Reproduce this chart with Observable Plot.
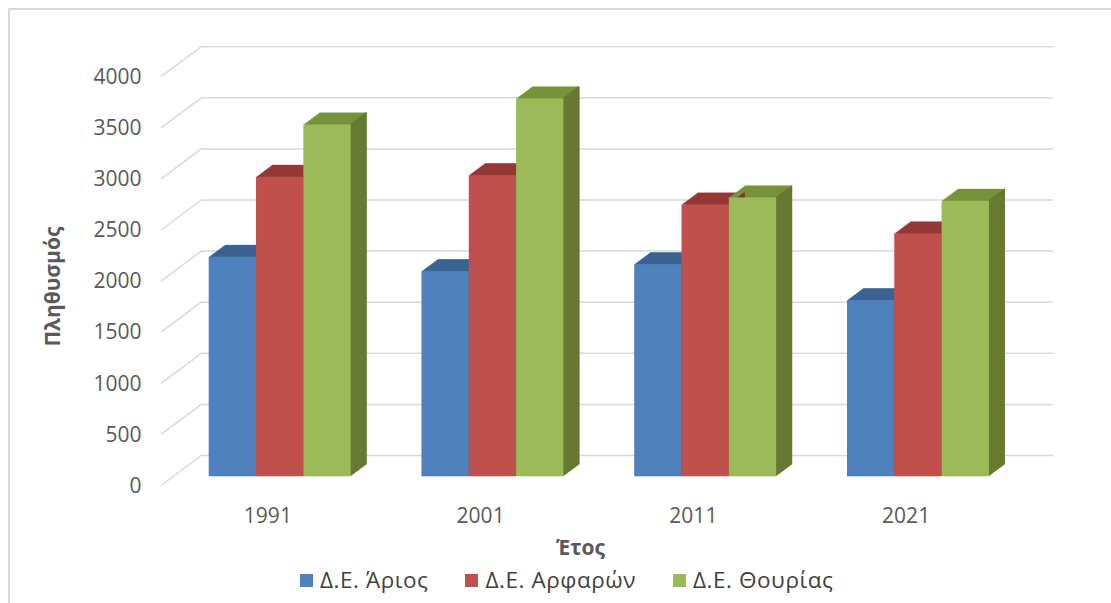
<!DOCTYPE html>
<html><head><meta charset="utf-8">
<script src="https://cdn.jsdelivr.net/npm/d3@7"></script>
<script src="https://cdn.jsdelivr.net/npm/@observablehq/plot@0.6"></script>
<style>
body{margin:0;background:#fff;font-family:"Open Sans",sans-serif;}
#wrap{position:relative;width:1111px;height:603px;overflow:hidden;}
#chart{position:absolute;left:0;top:0;}
#border{position:absolute;left:8px;top:8px;width:1200px;height:700px;border:2px solid #D9D9D9;box-sizing:border-box;pointer-events:none}
#legend{position:absolute;top:566px;left:300px;display:flex;align-items:center;font-size:22.5px;letter-spacing:0.55px;color:#404040;white-space:nowrap;line-height:28px}
.item{display:flex;align-items:center;margin-right:37px}
.sw{width:13px;height:13px;margin-right:7px}
</style></head><body>
<div id="wrap"><div id="chart"></div><div id="legend"></div><div id="border"></div></div>
<script>
// ---- data ----
const years = ["1991", "2001", "2011", "2021"];
const seriesNames = ["Δ.Ε. Άριος", "Δ.Ε. Αρφαρών", "Δ.Ε. Θουρίας"];
const arios = [2148, 2008, 2076, 1724];
const arfaron = [2931, 2947, 2660, 2377];
const thourias = [3443, 3698, 2729, 2696];
const yTicks = [0, 500, 1000, 1500, 2000, 2500, 3000, 3500, 4000];
const yTitle = "Πληθυσμός";
const xTitle = "Έτος";

// ---- styles ----
const frontColors = ["#4F81BD", "#C0504D", "#9BBB59"];
const topColors = ["#3C6391", "#943937", "#77933C"];
const sideColors = ["#355A85", "#7F302E", "#687834"];

const W = 1111, H = 560, mL = 161, mR = 99, mT = 76.7, mB = 74.5;
const WALL_DX = 41, WALL_DY = -30.5;
const FX = 12.3, FY = -9.2, DX = 16, DY = -11.9, N = 16;
const bw = (W - mL - mR) / years.length;
const outerPad = 35.4;
const barW = (bw - 2 * outerPad) / seriesNames.length;

const seriesValues = [arios, arfaron, thourias];
const tables = seriesValues.map(vals => years.map((year, j) => ({year, value: vals[j]})));

const marks = [];
// back wall gridlines
marks.push(Plot.ruleY(yTicks, {stroke: "#D9D9D9", strokeWidth: 1.5, dx: WALL_DX, dy: WALL_DY}));
// side wall diagonals
marks.push((index, scales, values, dims) => {
  const g = d3.create("svg:g");
  for (const t of yTicks) {
    const y0 = scales.y(t);
    g.append("line")
      .attr("x1", dims.marginLeft).attr("y1", y0)
      .attr("x2", dims.marginLeft + WALL_DX).attr("y2", y0 + WALL_DY)
      .attr("stroke", "#D9D9D9").attr("stroke-width", 1.5);
  }
  return g.node();
});
// extrusion (top colour)
tables.forEach((tab, i) => {
  const L = outerPad + barW * i, R = bw - L - barW;
  for (let k = N; k >= 1; k--) {
    marks.push(Plot.barY(tab, {x: "year", y: "value", fill: topColors[i], insetLeft: L, insetRight: R,
      dx: FX + DX * k / N, dy: FY + DY * k / N}));
  }
});
// side faces
tables.forEach((tab, i) => {
  const L = outerPad + barW * i, R = bw - L - barW;
  for (let k = N; k >= 1; k--) {
    marks.push(Plot.barY(tab, {x: "year", y: "value", fill: sideColors[i], insetLeft: L + barW - 1.5, insetRight: R,
      dx: FX + DX * k / N, dy: FY + DY * k / N}));
  }
});
// front faces
tables.forEach((tab, i) => {
  const L = outerPad + barW * i, R = bw - L - barW;
  marks.push(Plot.barY(tab, {x: "year", y: "value", fill: frontColors[i], insetLeft: L, insetRight: R, dx: FX, dy: FY}));
});
// axis titles
marks.push(Plot.text([yTitle], {text: d => d, frameAnchor: "left", textAnchor: "middle", lineAnchor: "middle",
  rotate: -90, dx: -108, dy: 5, fontWeight: "bold", fontSize: 21, fill: "#595959"}));
marks.push(Plot.text([xTitle], {text: d => d, frameAnchor: "bottom", textAnchor: "middle", lineAnchor: "middle",
  dx: -6.5, dy: 62.5, fontWeight: "bold", fontSize: 21, fill: "#595959"}));

const chart = Plot.plot({
  width: W, height: H,
  marginLeft: mL, marginRight: mR, marginTop: mT, marginBottom: mB,
  style: {fontFamily: '"Open Sans", sans-serif', fontSize: "21px", color: "#595959", background: "transparent", overflow: "visible"},
  x: {type: "band", domain: years, padding: 0, round: false, tickSize: 0, tickPadding: 22.5, label: null},
  y: {domain: [0, 4000], ticks: yTicks, tickSize: 0, tickPadding: 20, label: null, tickFormat: d => String(d)},
  marks
});
document.getElementById("chart").appendChild(chart);

// legend
const legend = document.getElementById("legend");
seriesNames.forEach((name, i) => {
  const item = document.createElement("div");
  item.className = "item";
  const sw = document.createElement("span");
  sw.className = "sw";
  sw.style.background = frontColors[i];
  const tx = document.createElement("span");
  tx.textContent = name;
  item.appendChild(sw); item.appendChild(tx);
  legend.appendChild(item);
});
</script>
</body></html>
